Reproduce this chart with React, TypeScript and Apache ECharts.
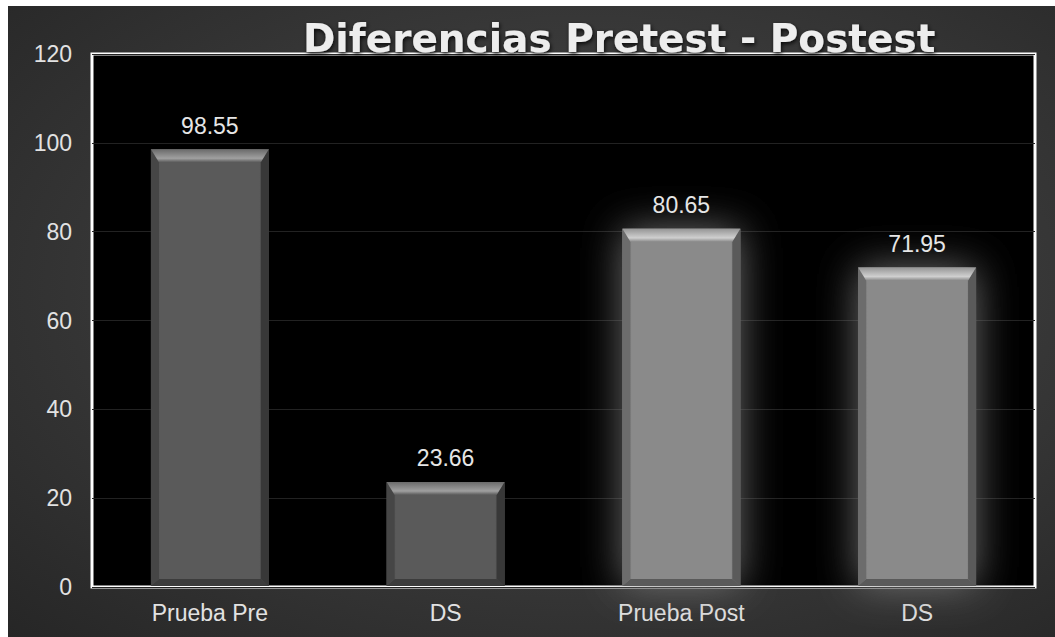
import React, { useEffect, useRef } from "react";
import * as echarts from "echarts";

const categories = ["Prueba Pre", "DS", "Prueba Post", "DS"];
const values = [98.55, 23.66, 80.65, 71.95];
const yMin = 0;
const yMax = 120;
const yStep = 20;
const titleText = "Diferencias Pretest - Postest";

const darkShade = { face: "#5a5a5a", top: "#6a6a6a", hi: "#a0a0a0", side: "#464646", sideR: "#383838", bottom: "#3c3c3c", glow: false };
const lightShade = { face: "#8a8a8a", top: "#959595", hi: "#cfcfcf", side: "#6c6c6c", sideR: "#5a5a5a", bottom: "#5a5a5a", glow: true };
const shades = [darkShade, darkShade, lightShade, lightShade];

const FONT = '"Liberation Sans", Arial, sans-serif';

export default function App() {
  const ref = useRef<HTMLDivElement>(null);
  useEffect(() => {
    if (!ref.current) return;
    const chart = echarts.init(ref.current, null, { renderer: "svg" });
    const data = values.map((v, i) => [i, v]);
    chart.setOption({
      animation: false,
      backgroundColor: {
        type: "radial",
        x: 0.55,
        y: 0.45,
        r: 0.8,
        colorStops: [
          { offset: 0, color: "#4c4c4c" },
          { offset: 1, color: "#252525" },
        ],
      },
      title: {
        text: titleText,
        left: 290,
        top: 8,
        textStyle: {
          color: "#ededed",
          fontSize: 39,
          fontWeight: "bold",
          fontFamily: '"DejaVu Sans", sans-serif',
          textShadowColor: "rgba(0,0,0,0.85)",
          textShadowBlur: 4,
          textShadowOffsetX: 1,
          textShadowOffsetY: 2,
        },
      },
      grid: {
        left: 84,
        top: 48,
        right: 20,
        bottom: 50,
        show: true,
        backgroundColor: "#000",
        borderColor: "#ffffff",
        borderWidth: 3,
        containLabel: false,
      },
      xAxis: {
        type: "category",
        data: categories,
        axisLine: { show: false },
        axisTick: { show: false },
        axisLabel: { color: "#e2e2e2", fontSize: 23, fontFamily: FONT, margin: 14 },
      },
      yAxis: {
        type: "value",
        min: yMin,
        max: yMax,
        interval: yStep,
        axisLine: { show: false },
        axisTick: { show: false },
        axisLabel: { color: "#e2e2e2", fontSize: 23, fontFamily: FONT, margin: 20 },
        splitLine: { lineStyle: { color: "#222222", width: 1 } },
      },
      series: [
        {
          type: "custom",
          data,
          encode: { x: 0, y: 1 },
          renderItem: (params: any, api: any) => {
            const i = api.value(0) as number;
            const v = api.value(1) as number;
            const topPt = api.coord([i, v]);
            const basePt = api.coord([i, 0]);
            const bw = api.size([1, 0])[0] * 0.5;
            const x0 = topPt[0] - bw / 2;
            const x1 = x0 + bw;
            const y0 = topPt[1];
            const y1 = basePt[1] - 1;
            const s = shades[i % shades.length];
            const bt = 13;
            const bs = 8;
            const bb = 7;
            return {
              type: "group",
              children: [
                {
                  type: "rect",
                  shape: { x: x0, y: y0, width: bw, height: y1 - y0 },
                  style: {
                    fill: s.face,
                    shadowBlur: s.glow ? 40 : 0,
                    shadowColor: s.glow ? "rgba(120,120,120,0.9)" : "rgba(0,0,0,0)",
                  },
                },
                {
                  type: "rect",
                  shape: { x: x0, y: y0, width: bw, height: y1 - y0 },
                  style: {
                    fill: {
                      type: "linear",
                      x: 0, y: 0, x2: 1, y2: 0,
                      colorStops: [
                        { offset: 0, color: s.side },
                        { offset: 0.08, color: s.face },
                        { offset: 0.92, color: s.face },
                        { offset: 1, color: s.sideR },
                      ],
                    },
                  },
                },
                {
                  type: "polygon",
                  shape: { points: [[x0, y1], [x1, y1], [x1 - bs, y1 - bb], [x0 + bs, y1 - bb]] },
                  style: { fill: s.bottom },
                },
                {
                  type: "polygon",
                  shape: { points: [[x0, y0], [x0 + bs, y0 + bt], [x0 + bs, y1 - bb], [x0, y1]] },
                  style: { fill: s.side },
                },
                {
                  type: "polygon",
                  shape: { points: [[x1, y0], [x1, y1], [x1 - bs, y1 - bb], [x1 - bs, y0 + bt]] },
                  style: { fill: s.sideR },
                },
                {
                  type: "polygon",
                  shape: { points: [[x0, y0], [x1, y0], [x1 - bs, y0 + bt], [x0 + bs, y0 + bt]] },
                  style: {
                    fill: {
                      type: "linear",
                      x: 0, y: 0, x2: 0, y2: 1,
                      colorStops: [
                        { offset: 0, color: s.top },
                        { offset: 0.7, color: s.hi },
                        { offset: 1, color: s.face },
                      ],
                    },
                  },
                },
                {
                  type: "text",
                  x: (x0 + x1) / 2,
                  y: y0 - 12,
                  style: {
                    text: String(v),
                    fill: "#e6e6e6",
                    fontSize: 23,
                    fontFamily: FONT,
                    align: "center",
                    verticalAlign: "bottom",
                  },
                },
              ],
            };
          },
        },
      ],
    });
    return () => chart.dispose();
  }, []);
  return (
    <div
      ref={ref}
      style={{ position: "absolute", left: 8, top: 6, width: 1047, height: 631 }}
    />
  );
}
